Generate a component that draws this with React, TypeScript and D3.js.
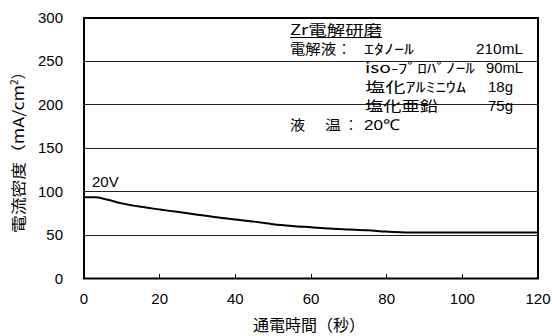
import React, { useEffect, useRef } from 'react'
import * as d3 from 'd3'

// 通電時間(秒) vs 電流密度
const times = [0, 3, 6, 10, 15, 20, 25, 30, 35, 40, 45, 50, 55, 60, 65, 70, 75, 80, 86, 90, 100, 110, 120]
const density = [93.5, 93.5, 91, 86.5, 82.5, 79.5, 76.5, 73.5, 70.5, 68, 65.5, 62.5, 60.5, 59, 57.5, 56.5, 55.5, 54, 53, 53, 53, 53, 53]
const xTicks = [0, 20, 40, 60, 80, 100, 120]
const yTicks = [0, 50, 100, 150, 200, 250, 300]

// annotation: [text, x, baseline y, width, font]
const notes: [string, number, number, number, string][] = [
  ['電解液', 290, 54, 46, 'jp'],
  ['：', 338, 54, 12, 'jp'],
  ['ｴﾀﾉｰﾙ', 364, 54, 50, 'jp'],
  ['210mL', 476, 54, 47, 'num'],
  ['iso-ﾌﾟﾛﾊﾟﾉｰﾙ', 365, 73, 110, 'jp'],
  ['90mL', 486, 73, 37, 'num'],
  ['塩化ｱﾙﾐﾆｳﾑ', 365, 92, 101, 'jp'],
  ['18g', 488, 92, 25, 'num'],
  ['塩化亜鉛', 365, 111, 73, 'jp'],
  ['75g', 488, 111, 25, 'num'],
  ['液', 290, 130, 15, 'jp'],
  ['温', 325, 130, 16, 'jp'],
  ['：', 345, 130, 12, 'jp'],
  ['20℃', 364, 130, 36, 'num'],
]

const W = 552
const H = 336
const m = { left: 84, right: 538, top: 18, bottom: 278.5 }
const jp = '"Noto Sans CJK JP", sans-serif'
const num = '"Liberation Sans", Arial, sans-serif'

export default function App() {
  const svgRef = useRef<SVGSVGElement>(null)

  useEffect(() => {
    const svg = d3.select(svgRef.current)
    svg.selectAll('*').remove()

    const x = d3.scaleLinear().domain([0, 120]).range([m.left, m.right])
    const y = d3.scaleLinear().domain([0, 300]).range([m.bottom, m.top])

    // gridlines
    svg
      .append('g')
      .selectAll('line')
      .data(yTicks.filter((d) => d > 0 && d < 300))
      .join('line')
      .attr('x1', m.left)
      .attr('x2', m.right)
      .attr('y1', (d) => y(d))
      .attr('y2', (d) => y(d))
      .attr('stroke', '#222')
      .attr('stroke-width', 1)
      .attr('shape-rendering', 'crispEdges')

    // x ticks (inside)
    svg
      .append('g')
      .selectAll('line')
      .data(xTicks.slice(1, -1))
      .join('line')
      .attr('x1', (d) => x(d))
      .attr('x2', (d) => x(d))
      .attr('y1', m.bottom)
      .attr('y2', m.bottom - 5)
      .attr('stroke', '#000')
      .attr('shape-rendering', 'crispEdges')

    // curve
    const line = d3
      .line<number>()
      .x((_, i) => x(times[i]))
      .y((d) => y(d))
      .curve(d3.curveMonotoneX)
    svg
      .append('path')
      .datum(density)
      .attr('d', line)
      .attr('fill', 'none')
      .attr('stroke', '#000')
      .attr('stroke-width', 2)

    // frame
    svg
      .append('rect')
      .attr('x', m.left)
      .attr('y', m.top)
      .attr('width', m.right - m.left)
      .attr('height', m.bottom - m.top)
      .attr('fill', 'none')
      .attr('stroke', '#000')
      .attr('stroke-width', 2)

    // tick labels
    svg
      .append('g')
      .selectAll('text')
      .data(yTicks)
      .join('text')
      .attr('x', 63)
      .attr('y', (d) => y(d) + 5)
      .attr('text-anchor', 'end')
      .attr('font-family', num)
      .attr('font-size', 15)
      .text((d) => d)
    svg
      .append('g')
      .selectAll('text')
      .data(xTicks)
      .join('text')
      .attr('x', (d) => x(d))
      .attr('y', 304)
      .attr('text-anchor', 'middle')
      .attr('font-family', num)
      .attr('font-size', 15)
      .text((d) => d)

    // axis titles
    svg
      .append('text')
      .attr('x', 253)
      .attr('y', 331)
      .attr('font-family', jp)
      .attr('font-size', 16)
      .attr('textLength', 112)
      .attr('lengthAdjust', 'spacingAndGlyphs')
      .text('通電時間（秒）')
    const yl = svg
      .append('text')
      .attr('transform', 'translate(24,233) rotate(-90)')
      .attr('font-family', jp)
      .attr('font-size', 15)
    yl.append('tspan').attr('textLength', 148).attr('lengthAdjust', 'spacingAndGlyphs').text('電流密度（mA/cm')
    yl.append('tspan').attr('dy', -6).attr('font-size', 10).text('2')
    yl.append('tspan').attr('dy', 6).text('）')

    svg
      .append('text')
      .attr('x', 92)
      .attr('y', 187)
      .attr('font-family', num)
      .attr('font-size', 15)
      .text('20V')

    // annotation
    const note = svg.append('g').attr('font-size', 14)
    note
      .append('text')
      .attr('x', 290)
      .attr('y', 35)
      .attr('font-family', jp)
      .attr('textLength', 92)
      .attr('lengthAdjust', 'spacingAndGlyphs')
      .text('Zr電解研磨')
    note
      .append('line')
      .attr('x1', 290)
      .attr('x2', 382)
      .attr('y1', 37.5)
      .attr('y2', 37.5)
      .attr('stroke', '#000')
      .attr('stroke-width', 1)
    note
      .selectAll('text.n')
      .data(notes)
      .join('text')
      .attr('class', 'n')
      .attr('x', (d) => d[1])
      .attr('y', (d) => d[2])
      .attr('textLength', (d) => d[3])
      .attr('lengthAdjust', 'spacingAndGlyphs')
      .attr('font-family', (d) => (d[4] === 'jp' ? jp : num))
      .attr('font-size', (d) => (d[4] === 'jp' ? 14 : 15))
      .text((d) => d[0])
  }, [])

  return (
    <svg
      ref={svgRef}
      width={W}
      height={H}
      style={{ position: 'absolute', left: 0, top: 0, background: '#fff' }}
    />
  )
}
